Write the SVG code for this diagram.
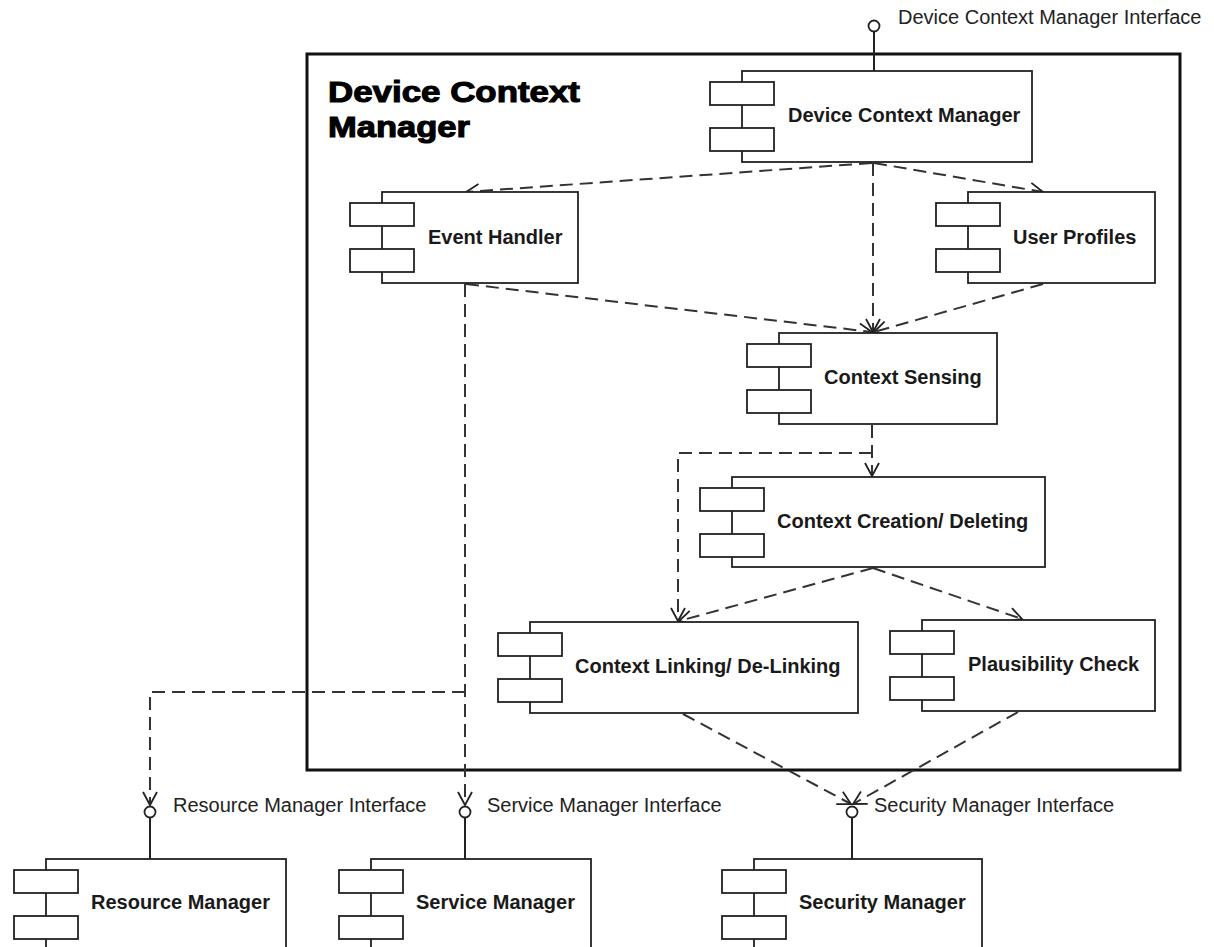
<svg xmlns="http://www.w3.org/2000/svg" width="1214" height="947" viewBox="0 0 1214 947">
<style>
.body{fill:#fff;stroke:#222;stroke-width:1.8}
.port{fill:#fff;stroke:#222;stroke-width:1.8}
.lbl{font-family:"Liberation Sans",Arial,sans-serif;font-size:20px;font-weight:bold;fill:#1a1a1a}
.ifl{font-family:"Liberation Sans",Arial,sans-serif;font-size:20px;fill:#222}
.ttl{font-family:"Liberation Sans",Arial,sans-serif;font-size:30px;font-weight:bold;fill:#000;stroke:#000;stroke-width:1.1}
.dep{fill:none;stroke:#333;stroke-width:2;stroke-dasharray:13 7;marker-end:url(#arr)}
.stem{fill:none;stroke:#222;stroke-width:2}
.lolli{fill:#fff;stroke:#222;stroke-width:1.8}
</style>
<defs>
<marker id="arr" markerUnits="userSpaceOnUse" markerWidth="18" markerHeight="18" viewBox="-15 -9 18 18" refX="0" refY="0" orient="auto">
<path d="M-13,-7 L0,0 L-13,7" fill="none" stroke="#222" stroke-width="1.8"/>
</marker>
<g id="comp">
<rect class="port" x="-32" y="11" width="64" height="23"/>
<rect class="port" x="-32" y="57" width="64" height="23"/>
</g>
</defs>
<rect x="0" y="0" width="1214" height="947" fill="#fff"/>

<g id="frame">
<rect x="307" y="54" width="873" height="716" fill="none" stroke="#111" stroke-width="3"/>
<text class="ttl" x="328" y="102" textLength="252" lengthAdjust="spacingAndGlyphs">Device Context</text>
<text class="ttl" x="328" y="137" textLength="142" lengthAdjust="spacingAndGlyphs">Manager</text>
</g>

<g id="connectors">
<path class="dep" d="M872,163 L466,192"/>
<path class="dep" d="M874,163 L1043,192"/>
<path class="dep" d="M873,163 L873,332"/>
<path class="dep" d="M466,284 L872,332"/>
<path class="dep" d="M1043,284 L874,332"/>
<path class="dep" d="M465,284 L465,805"/>
<path class="dep" d="M465,692 L150,692 L150,805"/>
<path class="dep" d="M872,425 L872,476"/>
<path class="dep" d="M872,453 L678,453 L678,621"/>
<path class="dep" d="M873,568 L679,621"/>
<path class="dep" d="M873,568 L1022,619"/>
<path class="dep" d="M683,714 L851,804"/>
<path class="dep" d="M1018,712 L853,804"/>
<path class="stem" d="M874,31.5 L874,71"/>
<path class="stem" d="M150,817.5 L150,859"/>
<path class="stem" d="M465,817.5 L465,859"/>
<path class="stem" d="M852,817.5 L852,859"/>
</g>

<g id="iface-dcm">
<circle class="lolli" cx="874" cy="26" r="5.5"/>
<text class="ifl" x="898" y="24">Device Context Manager Interface</text>
</g>
<g id="iface-rm">
<circle class="lolli" cx="150" cy="812" r="5.5"/>
<text class="ifl" x="173" y="812">Resource Manager Interface</text>
</g>
<g id="iface-sm">
<circle class="lolli" cx="465" cy="812" r="5.5"/>
<text class="ifl" x="487" y="812">Service Manager Interface</text>
</g>
<g id="iface-sec">
<circle class="lolli" cx="852" cy="812" r="5.5"/>
<text class="ifl" x="874" y="812">Security Manager Interface</text>
</g>

<g id="n-dcm">
<rect class="body" x="742" y="71" width="290" height="91"/>
<use href="#comp" x="742" y="71"/>
<text class="lbl" x="788" y="122">Device Context Manager</text>
</g>
<g id="n-eh">
<rect class="body" x="382" y="192" width="196" height="91"/>
<use href="#comp" x="382" y="192"/>
<text class="lbl" x="428" y="244">Event Handler</text>
</g>
<g id="n-up">
<rect class="body" x="968" y="192" width="187" height="91"/>
<use href="#comp" x="968" y="192"/>
<text class="lbl" x="1013" y="244">User Profiles</text>
</g>
<g id="n-cs">
<rect class="body" x="779" y="333" width="218" height="91"/>
<use href="#comp" x="779" y="333"/>
<text class="lbl" x="824" y="384">Context Sensing</text>
</g>
<g id="n-ccd">
<rect class="body" x="732" y="477" width="313" height="90"/>
<use href="#comp" x="732" y="477"/>
<text class="lbl" x="777" y="528">Context Creation/ Deleting</text>
</g>
<g id="n-cl">
<rect class="body" x="530" y="622" width="328" height="91"/>
<use href="#comp" x="530" y="622"/>
<text class="lbl" x="575" y="673">Context Linking/ De-Linking</text>
</g>
<g id="n-pc">
<rect class="body" x="922" y="620" width="233" height="91"/>
<use href="#comp" x="922" y="620"/>
<text class="lbl" x="968" y="671">Plausibility Check</text>
</g>
<g id="n-rm">
<rect class="body" x="46" y="859" width="240" height="100"/>
<use href="#comp" x="46" y="859"/>
<text class="lbl" x="91" y="909">Resource Manager</text>
</g>
<g id="n-sm">
<rect class="body" x="371" y="859" width="220" height="100"/>
<use href="#comp" x="371" y="859"/>
<text class="lbl" x="416" y="909">Service Manager</text>
</g>
<g id="n-sec">
<rect class="body" x="754" y="859" width="228" height="100"/>
<use href="#comp" x="754" y="859"/>
<text class="lbl" x="799" y="909">Security Manager</text>
</g>
</svg>
